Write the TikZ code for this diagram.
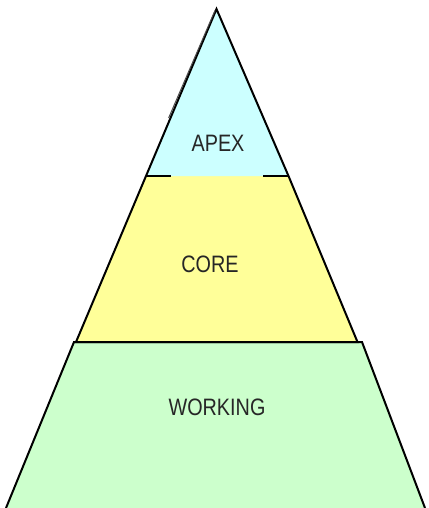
\documentclass[tikz,border=0pt]{standalone}
\usepackage{fontspec}
\setmainfont{Liberation Sans}
\begin{document}
\begin{tikzpicture}[x=1pt,y=-1pt,
  edge/.style={draw=black,line width=2pt,line join=miter},
  tier/.style={font=\fontsize{19.8}{21}\selectfont,text=black!85,inner sep=0pt}]
\useasboundingbox (0,0) rectangle (428,508);
\definecolor{apexfill}{HTML}{CCFFFF}
\definecolor{corefill}{HTML}{FFFF99}
\definecolor{workfill}{HTML}{CCFFCC}

% corner points of the three tiers
\coordinate (top) at (216.5,9);
\coordinate (al) at (146,176);
\coordinate (ar) at (288.5,176);
\coordinate (cl) at (76,342);
\coordinate (cr) at (357.5,342);
\coordinate (wl) at (74,342);
\coordinate (wr) at (362,342);
\coordinate (bl) at (6,508);
\coordinate (br) at (425,508);

% working tier
\fill[workfill] (wl) -- (wr) -- (br) -- (bl) -- cycle;
\draw[edge] (bl) -- (wl) -- (wr) -- (br);

% core tier
\fill[corefill] (al) -- (ar) -- (cr) -- (cl) -- cycle;
\draw[edge] (al) -- (cl) -- (cr) -- (ar);

% apex tier
\fill[apexfill] (top) -- (ar) -- (al) -- cycle;
\draw[edge] (al) -- (top) -- (ar);
\draw[edge] (al) -- (171,176);
\draw[edge] (263,176) -- (ar);
\draw[draw=black!70,line width=1pt] (215.0,10.5) -- (168.6,118);

\node[tier] (apex) at (218,143) {\scalebox{1}[1.2]{APEX}};
\node[tier] (core) at (210,264) {\scalebox{1}[1.2]{CORE}};
\node[tier] (working) at (217,407) {\scalebox{1}[1.2]{WORKING}};
\end{tikzpicture}
\end{document}
